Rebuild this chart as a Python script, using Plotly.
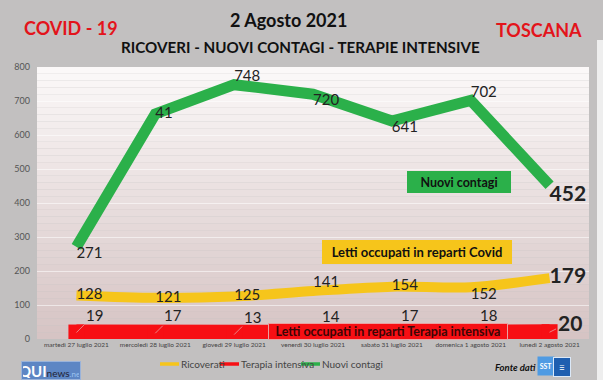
import plotly.graph_objects as go

dates = ["martedì 27 luglio 2021", "mercoledì 28 luglio 2021", "giovedì 29 luglio 2021",
         "venerdì 30 luglio 2021", "sabato 31 luglio 2021", "domenica 1 agosto 2021",
         "lunedì 2 agosto 2021"]
nuovi_contagi = [271, 662, 748, 720, 641, 702, 452]
nuovi_labels = ["271", "41", "748", "720", "641", "702", "<b>452</b>"]
ricoverati = [128, 121, 125, 141, 154, 152, 179]
ricoverati_labels = ["128", "121", "125", "141", "154", "152", "<b>179</b>"]
terapia = [19, 17, 13, 14, 17, 18, 20]
terapia_labels = ["19", "17", "13", "14", "17", "18", "<b>20</b>"]
y_ticks = [0, 100, 200, 300, 400, 500, 600, 700, 800]
series_names = ["Ricoverati", "Terapia intensiva", "Nuovi contagi"]

GREEN = "#2bb04a"
YELLOW = "#f6c51b"
RED = "#f70f14"
FONT = "Lato"

W, H = 603, 380
L, R, T, B = 37, 14, 67, 41
pw, ph = W - L - R, H - T - B

def px(x, y):
    return (x - L) / pw, (H - B - y) / ph

fig = go.Figure()

fig.add_trace(go.Scatter(
    x=dates, y=ricoverati, mode="lines+text", name=series_names[0],
    line=dict(color=YELLOW, width=10, shape="spline", smoothing=0.8),
    text=ricoverati_labels,
    textposition=["middle right", "middle right", "middle right", "top right",
                  "middle right", "bottom right", "middle right"],
    textfont=dict(family=FONT, size=[15, 15, 15, 15, 15, 15, 21], color="#222"),
    showlegend=False, hoverinfo="skip",
))
fig.add_trace(go.Scatter(
    x=dates, y=terapia, mode="lines+markers", name=series_names[1],
    line=dict(color=RED, width=16),
    marker=dict(symbol="square", size=16, color=RED),
    showlegend=False, hoverinfo="skip",
))
fig.add_trace(go.Scatter(
    x=dates, y=nuovi_contagi, mode="lines+text", name=series_names[2],
    line=dict(color=GREEN, width=11),
    text=nuovi_labels,
    textposition=["bottom right", "middle right", "top right", "bottom right",
                  "bottom right", "top right", "bottom right"],
    textfont=dict(family=FONT, size=[15, 15, 15, 15, 15, 15, 21], color="#222"),
    showlegend=False, hoverinfo="skip",
))

annotations = []
# Terapia intensiva labels with leader lines
for i, (d, v, lab) in enumerate(zip(dates, terapia, terapia_labels)):
    big = i == len(dates) - 1
    annotations.append(dict(
        x=d, y=v, xref="x", yref="y", text=lab, showarrow=True,
        arrowhead=0, arrowwidth=0.6, arrowcolor="#e0d0d0",
        ax=20 if big else 18, ay=-10 if big else -18, xanchor="center", yanchor="middle",
        font=dict(family=FONT, size=21 if big else 15, color="#222"),
    ))

def txt(x, y, text, size, color, anchor="center", **kw):
    xx, yy = px(x, y)
    d = dict(x=xx, y=yy, xref="paper", yref="paper", text=text, showarrow=False,
             xanchor=anchor, yanchor="middle", font=dict(family=FONT, size=size, color=color))
    d.update(kw)
    annotations.append(d)

# Titles
txt(22, 28, "<b>COVID - 19</b>", 18, "#e3141b", "left")
txt(288, 20, "<b>2 Agosto 2021</b>", 18, "#111")
txt(584, 30, "<b>TOSCANA</b>", 18, "#e3141b", "right")
txt(300, 47, "<b>RICOVERI - NUOVI CONTAGI - TERAPIE INTENSIVE</b>", 15.2, "#111")

# text boxes
boxes = [
    ("<b>Nuovi contagi</b>", 459, 182, GREEN, "#111", 12.5, 100, 18),
    ("<b>Letti occupati in reparti Covid</b>", 417, 252, YELLOW, "#111", 13, 186, 20),
    ("<b>Letti occupati in reparti Terapia intensiva</b>", 388, 331, RED, "#3a0606", 12.5, 236, 13),
]
for text, x, y, bg, fc, fs, w, h in boxes:
    txt(x, y, text, fs, fc, bgcolor=bg, bordercolor="#e9a0a0" if bg == RED else bg,
        borderwidth=1, width=w, height=h)

shapes = []
# custom legend
legend_items = [(series_names[0], YELLOW, 160), (series_names[1], RED, 220), (series_names[2], GREEN, 301)]
for name, col, x0 in legend_items:
    a0, b0 = px(x0, 364)
    a1, _ = px(x0 + 19, 364)
    shapes.append(dict(type="line", xref="paper", yref="paper", x0=a0, x1=a1, y0=b0, y1=b0,
                       line=dict(color=col, width=3.5)))
    txt(x0 + 19, 364, name, 10, "#444", "left")

# footer logos
txt(51, 370, "<b><span style='font-size:15px'>QUI</span></b><span style='color:#223'>news</span><span style='color:#9cc4f0;font-size:8px'>.net</span>",
    10, "white", bgcolor="#5d86c4", bordercolor="#9ab3da", borderwidth=1, width=56, height=15)
txt(515, 367, "<b><i>Fonte dati</i></b>", 9.5, "#111")
txt(546, 366, "<b>SST</b>", 7, "white", bgcolor="#4f9be3", width=14, height=16)
txt(562, 367, "≡", 10, "white", bgcolor="#1f5fb0", bordercolor="#dbe8f7", borderwidth=1,
    width=14, height=16)

# gradient plot background
n = 40
top = (251, 248, 248)
bot = (214, 196, 196)
for i in range(n):
    f = i / (n - 1)
    c = tuple(round(top[k] + (bot[k] - top[k]) * f) for k in range(3))
    shapes.append(dict(type="rect", xref="paper", yref="paper", x0=0, x1=1,
                       y0=1 - (i + 1) / n, y1=1 - i / n, line=dict(width=0),
                       fillcolor="rgb(%d,%d,%d)" % c, layer="below"))
# light strip at right edge
shapes.append(dict(type="rect", xref="paper", yref="paper", x0=(597 - L) / pw, x1=(603 - L) / pw,
                   y0=(H - B - 380) / ph, y1=(H - B - 40) / ph, line=dict(width=0),
                   fillcolor="#eeeeee", layer="below"))

fig.update_layout(
    width=W, height=H,
    margin=dict(l=L, r=R, t=T, b=B, autoexpand=False),
    paper_bgcolor="#c2c0c0",
    plot_bgcolor="rgba(0,0,0,0)",
    showlegend=False,
    hovermode=False,
    xaxis=dict(type="category", range=[-0.5, 6.5], showgrid=False, zeroline=False,
               showline=False, ticks="", tickangle=0, automargin=False,
               tickfont=dict(family=FONT, size=6.5, color="#444")),
    yaxis=dict(range=[0, 800], tickvals=y_ticks, showgrid=True, automargin=False,
               gridcolor="rgba(255,255,255,0.55)", gridwidth=1, zeroline=False,
               tickfont=dict(family=FONT, size=9, color="#555"), ticklabelstandoff=6),
    annotations=annotations, shapes=shapes,
)
fig.write_html("out.html", config={"displayModeBar": False, "staticPlot": True},
               post_script="document.body.style.margin='0px';document.body.style.overflow='hidden';")
